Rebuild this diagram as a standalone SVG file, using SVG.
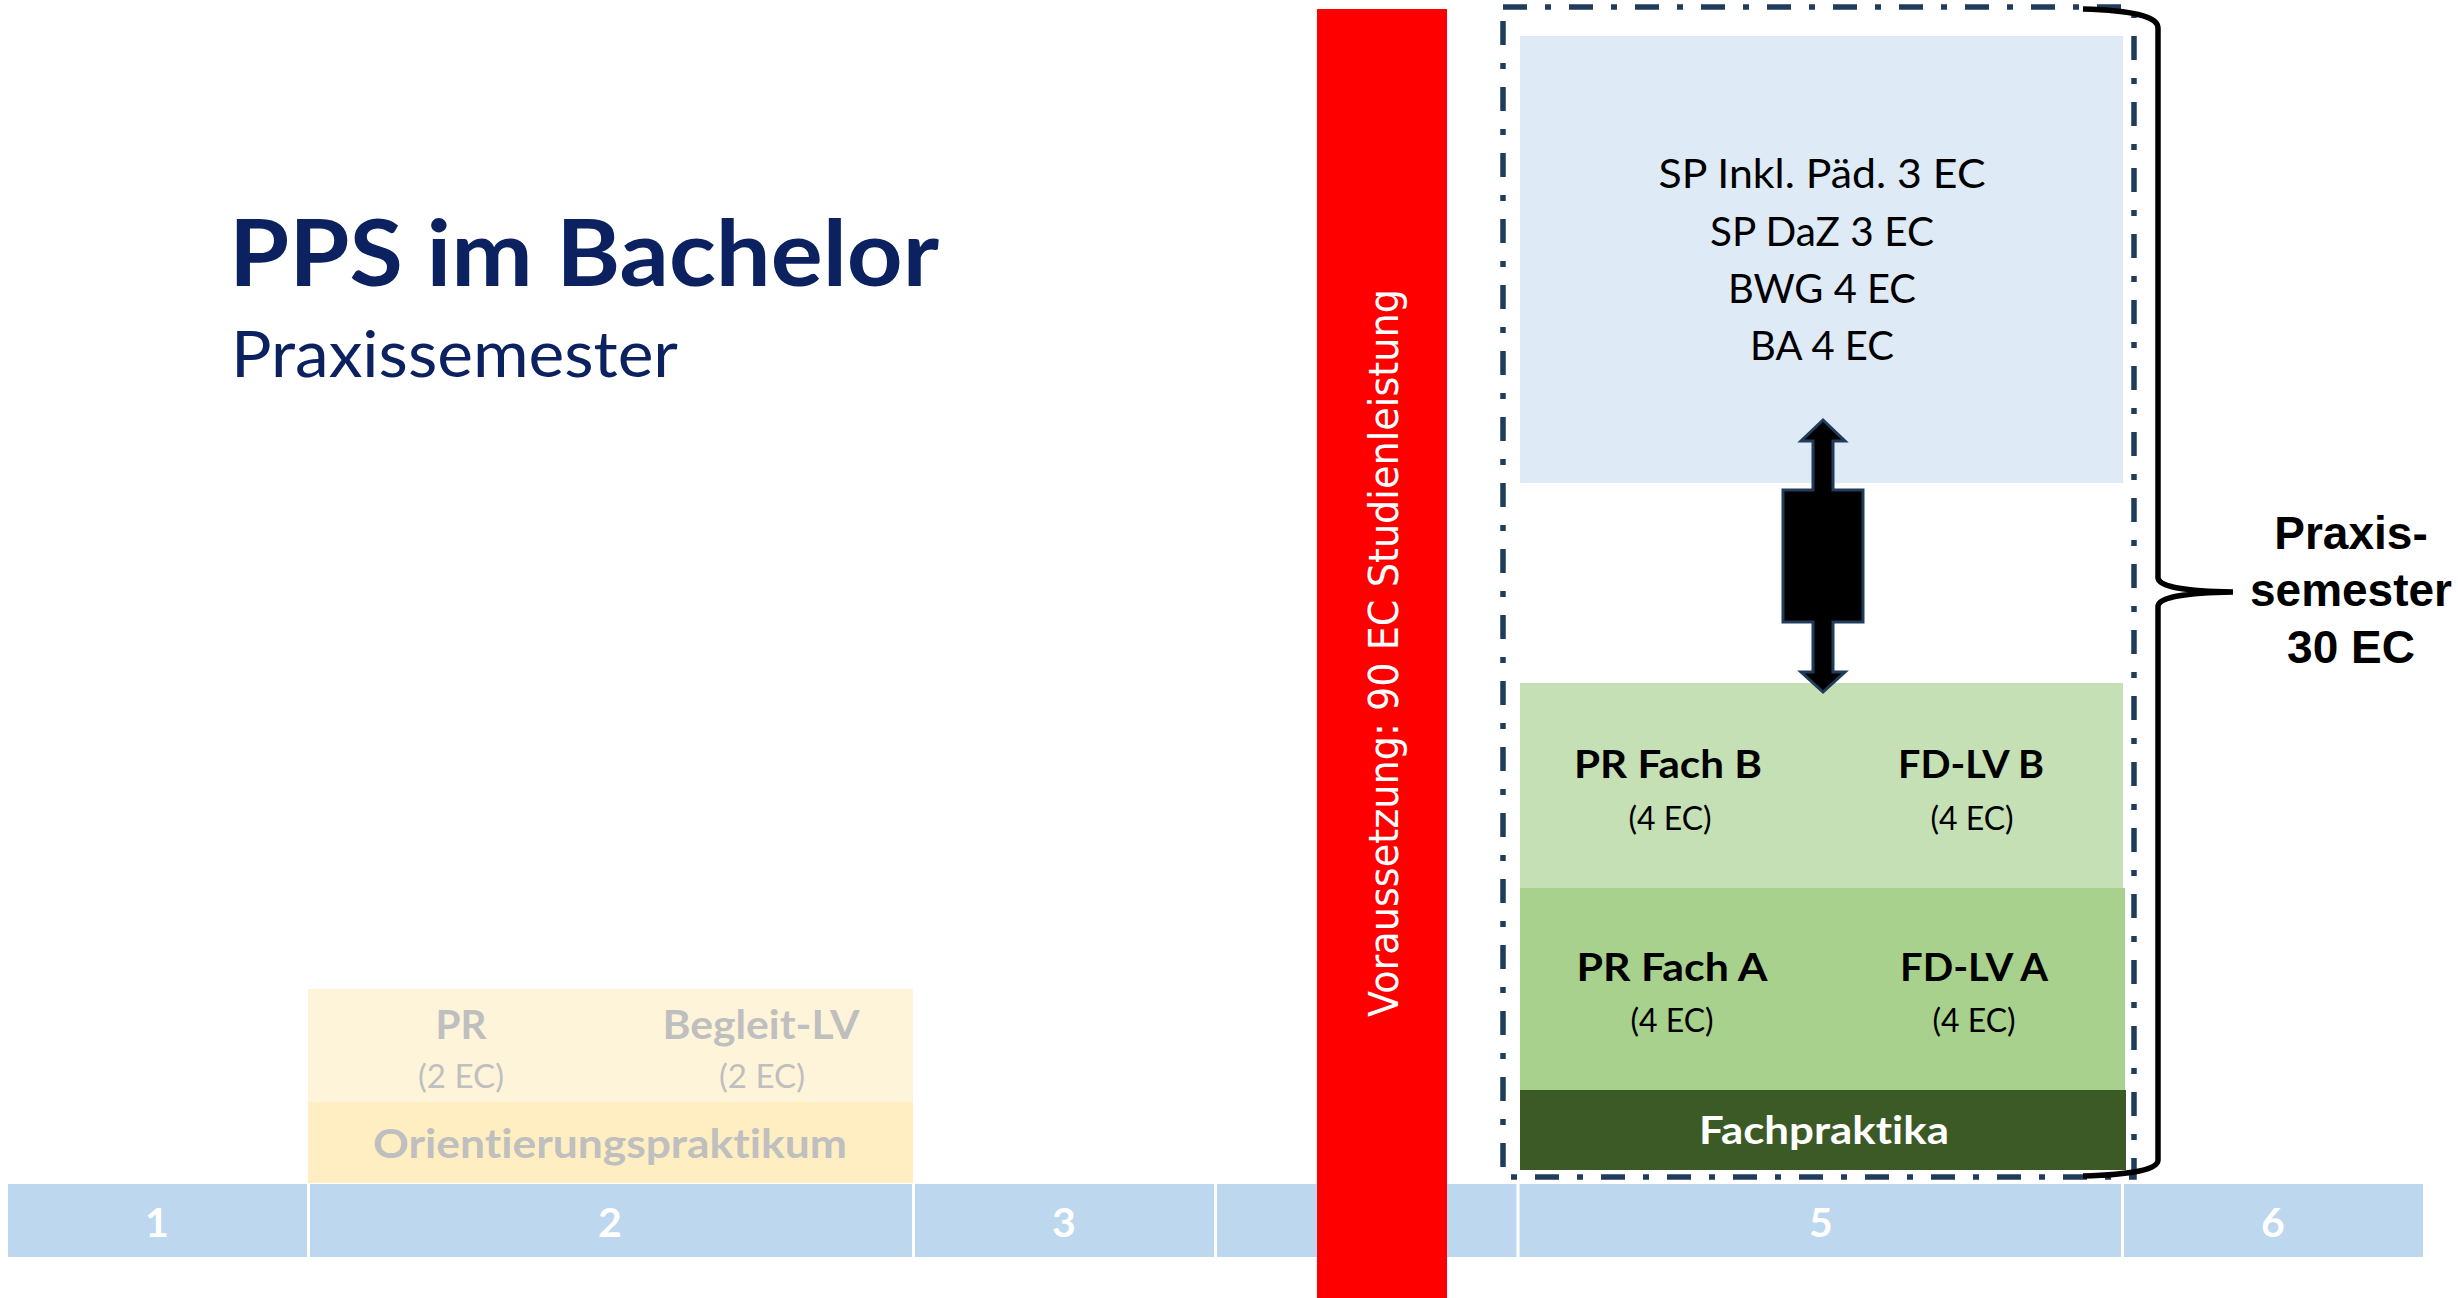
<svg xmlns="http://www.w3.org/2000/svg" width="2458" height="1298" viewBox="0 0 2458 1298">
<style>
text{font-variant-ligatures:none;font-feature-settings:"liga" 0,"clig" 0}
.cal{font-family:Lato,"Open Sans","Noto Sans",sans-serif}
.b{font-weight:bold}
.navy{fill:#0b2160}
.dark{fill:#000}
.grey{fill:#bfbfbf}
.white{fill:#fff}
.mid{text-anchor:middle}
.arial{font-family:"Liberation Sans",Arial,sans-serif;font-weight:bold}
</style>
<rect x="0" y="0" width="2458" height="1298" fill="#fff"/>

<g id="title">
<text class="cal b navy" x="229" y="286" font-size="92" textLength="710" lengthAdjust="spacingAndGlyphs">PPS im Bachelor</text>
<text class="cal navy" x="231" y="377" font-size="63" textLength="447" lengthAdjust="spacingAndGlyphs">Praxissemester</text>
</g>

<g id="timeline">
<rect x="8" y="1184" width="2415" height="73" fill="#bdd7ee"/>
<g stroke="#fff" stroke-width="3">
<line x1="308.5" y1="1184" x2="308.5" y2="1257"/>
<line x1="913.5" y1="1184" x2="913.5" y2="1257"/>
<line x1="1215.5" y1="1184" x2="1215.5" y2="1257"/>
<line x1="1518" y1="1184" x2="1518" y2="1257"/>
<line x1="2122.5" y1="1184" x2="2122.5" y2="1257"/>
</g>
<g class="cal b white mid" font-size="41">
<text x="157" y="1237">1</text>
<text x="610" y="1237">2</text>
<text x="1064" y="1237">3</text>
<text x="1821" y="1237">5</text>
<text x="2273" y="1237">6</text>
</g>
</g>

<g id="orientierungspraktikum">
<rect x="308" y="989" width="605" height="113" fill="#fef4d9"/>
<rect x="308" y="1102" width="605" height="81" fill="#feeec1"/>
<g class="cal grey mid">
<text class="b" x="461" y="1039" font-size="41" textLength="51" lengthAdjust="spacingAndGlyphs">PR</text>
<text x="461" y="1088" font-size="32" textLength="86" lengthAdjust="spacingAndGlyphs">(2 EC)</text>
<text class="b" x="761" y="1039" font-size="41" textLength="197" lengthAdjust="spacingAndGlyphs">Begleit-LV</text>
<text x="762" y="1088" font-size="32" textLength="86" lengthAdjust="spacingAndGlyphs">(2 EC)</text>
<text class="b" x="610" y="1158" font-size="41" textLength="474" lengthAdjust="spacingAndGlyphs">Orientierungspraktikum</text>
</g>
</g>

<g id="voraussetzung">
<rect x="1317" y="9" width="130" height="1289" fill="#ff0000"/>
<text transform="translate(1398,653) rotate(-90)" x="0" y="0" text-anchor="middle" font-family="'DejaVu Sans',Verdana,sans-serif" font-size="41" fill="#fff" textLength="728" lengthAdjust="spacingAndGlyphs">Voraussetzung: 90 EC Studienleistung</text>
</g>

<g id="praxissemester-frame">
<rect x="1503" y="7" width="631" height="1170" fill="none" stroke="#203c5c" stroke-width="5.5" stroke-dasharray="24 18 6 18"/>
</g>

<g id="begleitveranstaltungen">
<rect x="1520" y="36" width="603" height="447" fill="#deeaf6"/>
<g class="cal dark mid" font-size="40">
<text x="1822" y="188" textLength="327" lengthAdjust="spacingAndGlyphs">SP Inkl. Päd. 3 EC</text>
<text x="1822" y="246" textLength="224" lengthAdjust="spacingAndGlyphs">SP DaZ 3 EC</text>
<text x="1822" y="303" textLength="188" lengthAdjust="spacingAndGlyphs">BWG 4 EC</text>
<text x="1822" y="360" textLength="144" lengthAdjust="spacingAndGlyphs">BA 4 EC</text>
</g>
</g>

<g id="fach-b">
<rect x="1520" y="683" width="603" height="205" fill="#c5e0b4"/>
<g class="cal dark mid">
<text class="b" x="1668" y="778" font-size="39" textLength="188" lengthAdjust="spacingAndGlyphs">PR Fach B</text>
<text x="1670" y="830" font-size="32" textLength="83" lengthAdjust="spacingAndGlyphs">(4 EC)</text>
<text class="b" x="1971" y="778" font-size="39" textLength="146" lengthAdjust="spacingAndGlyphs">FD-LV B</text>
<text x="1972" y="830" font-size="32" textLength="83" lengthAdjust="spacingAndGlyphs">(4 EC)</text>
</g>
</g>

<g id="fach-a">
<rect x="1520" y="888" width="605" height="202" fill="#a9d18e"/>
<g class="cal dark mid">
<text class="b" x="1672" y="981" font-size="39" textLength="191" lengthAdjust="spacingAndGlyphs">PR Fach A</text>
<text x="1672" y="1032" font-size="32" textLength="83" lengthAdjust="spacingAndGlyphs">(4 EC)</text>
<text class="b" x="1974" y="981" font-size="39" textLength="148" lengthAdjust="spacingAndGlyphs">FD-LV A</text>
<text x="1974" y="1032" font-size="32" textLength="83" lengthAdjust="spacingAndGlyphs">(4 EC)</text>
</g>
</g>

<g id="fachpraktika">
<rect x="1520" y="1090" width="606" height="80" fill="#3b5a25"/>
<text class="cal b white mid" x="1824" y="1144" font-size="39" textLength="250" lengthAdjust="spacingAndGlyphs">Fachpraktika</text>
</g>

<g id="connectors">
<path d="M1823,420 L1845,441 L1833,441 L1833,490 L1863,490 L1863,622 L1833,622 L1833,672 L1845,672 L1823,692 L1801,672 L1813,672 L1813,622 L1783,622 L1783,490 L1813,490 L1813,441 L1801,441 Z" fill="#000" stroke="#203c5c" stroke-width="3" stroke-linejoin="miter"/>
</g>

<g id="brace">
<path d="M2083,9 Q2158,11 2158,28 L2158,578 Q2160,591 2233,592 Q2160,593 2158,606 L2158,1160 Q2158,1174 2083,1176" fill="none" stroke="#000" stroke-width="5.5"/>
</g>

<g id="praxissemester-label">
<g class="arial dark mid" font-size="46">
<text x="2351" y="549">Praxis-</text>
<text x="2351" y="606">semester</text>
<text x="2351" y="663">30 EC</text>
</g>
</g>
</svg>
